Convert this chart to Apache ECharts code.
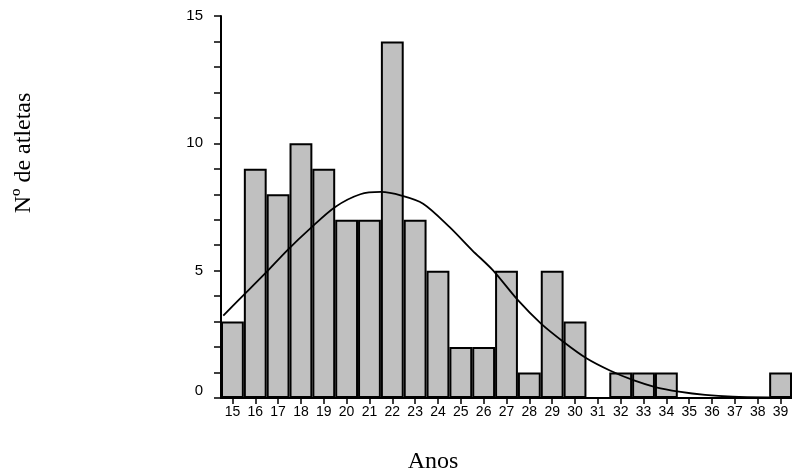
<!DOCTYPE html>
<html>
<head>
<meta charset="utf-8">
<script src="https://cdn.jsdelivr.net/npm/echarts@6/dist/echarts.min.js"></script>
<style>
  html, body { margin: 0; padding: 0; background: #fff; }
  #chart { width: 792px; height: 475px; }
</style>
</head>
<body>
<div id="chart"></div>
<script>
// Age classes (years) and number of athletes in each
const ages = ['15','16','17','18','19','20','21','22','23','24','25','26','27',
              '28','29','30','31','32','33','34','35','36','37','38','39'];
const athletes = [3, 9, 8, 10, 9, 7, 7, 14, 7, 5, 2, 2, 5, 1, 5, 3, 0, 1, 1, 1, 0, 0, 0, 0, 1];

// Fitted normal curve, sampled along the age axis
const curveAge = [14.6, 15.3, 16.4, 17.4, 18.4, 19.5, 20.6, 21.5, 22.4, 23.35, 24.5,
                  25.5, 26.4, 27.5, 28.5, 29.5, 30.5, 31.55, 32.55, 33.55, 34.55, 35.7, 36.9, 38.5];
const curveCount = [3.23, 3.87, 4.86, 5.8, 6.65, 7.5, 8.0, 8.09, 7.95, 7.63, 6.72,
                    5.8, 5.02, 3.84, 2.93, 2.2, 1.56, 1.07, 0.7, 0.42, 0.25, 0.12, 0.05, 0.02];

// y-axis ticks
const yMin = 0, yMax = 15, yStep = 5;

const curve = curveAge.map((a, i) => [a, curveCount[i]]);

const chart = echarts.init(document.getElementById('chart'), null, { renderer: 'canvas' });
chart.setOption({
  animation: false,
  backgroundColor: '#ffffff',
  grid: { left: 221, right: -9, top: 16, bottom: 77, containLabel: false },
  xAxis: [
    {
      type: 'category',
      data: ages,
      boundaryGap: true,
      axisLine: { show: true, lineStyle: { color: '#000', width: 2 } },
      axisTick: { show: true, alignWithLabel: true, length: 6, lineStyle: { color: '#000', width: 1.5 } },
      axisLabel: { color: '#000', fontFamily: 'Liberation Sans, Arial, sans-serif', fontSize: 14, margin: 7, interval: 0 },
      splitLine: { show: false }
    },
    {
      type: 'value',
      min: 14.5,
      max: 39.5,
      show: false
    }
  ],
  yAxis: {
    type: 'value',
    min: yMin,
    max: yMax,
    interval: yStep,
    axisLine: { show: true, lineStyle: { color: '#000', width: 2 } },
    axisTick: { show: true, length: 7, lineStyle: { color: '#000', width: 1.5 } },
    minorTick: { show: true, splitNumber: 5, length: 7, lineStyle: { color: '#000', width: 1.5 } },
    axisLabel: {
      color: '#000', fontFamily: 'Liberation Sans, Arial, sans-serif', fontSize: 15, margin: 18,
      // the zero label sits a little above the baseline
      formatter: v => (v === 0 ? '{z|0}' : String(v)),
      rich: { z: { fontSize: 15, fontFamily: 'Liberation Sans, Arial, sans-serif', color: '#000', padding: [0, 0, 14, 0] } }
    },
    splitLine: { show: false },
    minorSplitLine: { show: false }
  },
  graphic: [
    {
      type: 'text',
      x: 24, y: 153,
      rotation: Math.PI / 2,
      style: {
        text: 'Nº de atletas',
        fill: '#000',
        font: '24px "Liberation Serif", "Times New Roman", serif',
        textAlign: 'center',
        textVerticalAlign: 'middle'
      }
    },
    {
      type: 'text',
      x: 433, y: 462,
      style: {
        text: 'Anos',
        fill: '#000',
        font: '24px "Liberation Serif", "Times New Roman", serif',
        textAlign: 'center',
        textVerticalAlign: 'middle'
      }
    }
  ],
  series: [
    {
      type: 'bar',
      xAxisIndex: 0,
      data: athletes,
      barCategoryGap: '0%',
      itemStyle: { color: '#c0c0c0', borderColor: '#000', borderWidth: 2 },
      silent: true
    },
    {
      type: 'line',
      xAxisIndex: 1,
      data: curve,
      smooth: 0.3,
      symbol: 'none',
      lineStyle: { color: '#000', width: 1.8 },
      z: 5,
      silent: true
    }
  ]
});
</script>
</body>
</html>
